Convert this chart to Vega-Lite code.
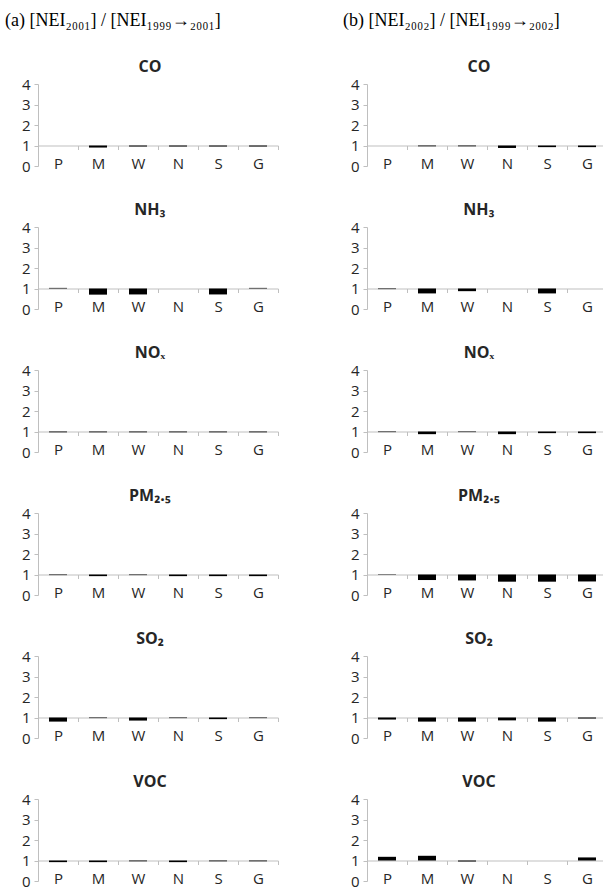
{
  "$schema": "https://vega.github.io/schema/vega-lite/v6.json",
  "padding": {"top": 12, "left": 5, "right": 0, "bottom": 0},
  "datasets": {
    "d": [
      {"p": "a", "g": "CO", "c": "P", "v": 1.0},
      {"p": "a", "g": "CO", "c": "M", "v": 0.9},
      {"p": "a", "g": "CO", "c": "W", "v": 0.95},
      {"p": "a", "g": "CO", "c": "N", "v": 0.95},
      {"p": "a", "g": "CO", "c": "S", "v": 0.95},
      {"p": "a", "g": "CO", "c": "G", "v": 0.95},
      {"p": "b", "g": "CO", "c": "P", "v": 1.0},
      {"p": "b", "g": "CO", "c": "M", "v": 0.96},
      {"p": "b", "g": "CO", "c": "W", "v": 0.96},
      {"p": "b", "g": "CO", "c": "N", "v": 0.88},
      {"p": "b", "g": "CO", "c": "S", "v": 0.92},
      {"p": "b", "g": "CO", "c": "G", "v": 0.92},
      {"p": "a", "g": "NH3", "c": "P", "v": 1.03},
      {"p": "a", "g": "NH3", "c": "M", "v": 0.7},
      {"p": "a", "g": "NH3", "c": "W", "v": 0.71},
      {"p": "a", "g": "NH3", "c": "S", "v": 0.71},
      {"p": "a", "g": "NH3", "c": "G", "v": 1.03},
      {"p": "b", "g": "NH3", "c": "P", "v": 0.97},
      {"p": "b", "g": "NH3", "c": "M", "v": 0.76},
      {"p": "b", "g": "NH3", "c": "W", "v": 0.87},
      {"p": "b", "g": "NH3", "c": "S", "v": 0.76},
      {"p": "a", "g": "NOX", "c": "P", "v": 0.96},
      {"p": "a", "g": "NOX", "c": "M", "v": 0.96},
      {"p": "a", "g": "NOX", "c": "W", "v": 0.96},
      {"p": "a", "g": "NOX", "c": "N", "v": 0.96},
      {"p": "a", "g": "NOX", "c": "S", "v": 0.96},
      {"p": "a", "g": "NOX", "c": "G", "v": 0.96},
      {"p": "b", "g": "NOX", "c": "P", "v": 0.97},
      {"p": "b", "g": "NOX", "c": "M", "v": 0.87},
      {"p": "b", "g": "NOX", "c": "W", "v": 0.97},
      {"p": "b", "g": "NOX", "c": "N", "v": 0.87},
      {"p": "b", "g": "NOX", "c": "S", "v": 0.92},
      {"p": "b", "g": "NOX", "c": "G", "v": 0.92},
      {"p": "a", "g": "PM", "c": "P", "v": 0.97},
      {"p": "a", "g": "PM", "c": "M", "v": 0.92},
      {"p": "a", "g": "PM", "c": "W", "v": 0.97},
      {"p": "a", "g": "PM", "c": "N", "v": 0.92},
      {"p": "a", "g": "PM", "c": "S", "v": 0.92},
      {"p": "a", "g": "PM", "c": "G", "v": 0.92},
      {"p": "b", "g": "PM", "c": "P", "v": 0.98},
      {"p": "b", "g": "PM", "c": "M", "v": 0.73},
      {"p": "b", "g": "PM", "c": "W", "v": 0.71},
      {"p": "b", "g": "PM", "c": "N", "v": 0.65},
      {"p": "b", "g": "PM", "c": "S", "v": 0.65},
      {"p": "b", "g": "PM", "c": "G", "v": 0.66},
      {"p": "a", "g": "SO2", "c": "P", "v": 0.8},
      {"p": "a", "g": "SO2", "c": "M", "v": 0.97},
      {"p": "a", "g": "SO2", "c": "W", "v": 0.85},
      {"p": "a", "g": "SO2", "c": "N", "v": 0.97},
      {"p": "a", "g": "SO2", "c": "S", "v": 0.92},
      {"p": "a", "g": "SO2", "c": "G", "v": 0.97},
      {"p": "b", "g": "SO2", "c": "P", "v": 0.9},
      {"p": "b", "g": "SO2", "c": "M", "v": 0.8},
      {"p": "b", "g": "SO2", "c": "W", "v": 0.8},
      {"p": "b", "g": "SO2", "c": "N", "v": 0.86},
      {"p": "b", "g": "SO2", "c": "S", "v": 0.8},
      {"p": "b", "g": "SO2", "c": "G", "v": 0.95},
      {"p": "a", "g": "VOC", "c": "P", "v": 0.92},
      {"p": "a", "g": "VOC", "c": "M", "v": 0.92},
      {"p": "a", "g": "VOC", "c": "W", "v": 0.96},
      {"p": "a", "g": "VOC", "c": "N", "v": 0.92},
      {"p": "a", "g": "VOC", "c": "S", "v": 0.96},
      {"p": "a", "g": "VOC", "c": "G", "v": 0.96},
      {"p": "b", "g": "VOC", "c": "P", "v": 1.18},
      {"p": "b", "g": "VOC", "c": "M", "v": 1.23},
      {"p": "b", "g": "VOC", "c": "W", "v": 0.95},
      {"p": "b", "g": "VOC", "c": "G", "v": 1.15}
    ]
  },
  "data": {"name": "d"},
  "hconcat": [
    {
      "title": {"text": "(a) [NEI₂₀₀₁] / [NEI₁₉₉₉→₂₀₀₁]", "font": "Liberation Serif", "fontSize": 18, "fontWeight": "normal", "anchor": "start", "frame": "group", "color": "#000000", "offset": 29, "dx": -33},
      "spacing": 28,
      "vconcat": [
        {"title": "CO", "width": 240, "height": 82, "transform": [{"filter": "datum.p==='a' && datum.g==='CO'"}], "mark": {"type": "bar", "width": {"band": 0.45}}, "encoding": {"x": {"field": "c", "type": "nominal", "sort": null, "scale": {"domain": ["P","M","W","N","S","G"], "paddingInner": 0, "paddingOuter": 0}}, "y": {"field": "v", "type": "quantitative", "scale": {"domain": [0, 4], "nice": false}}, "y2": {"datum": 1}}},
        {"title": "NH₃", "width": 240, "height": 82, "transform": [{"filter": "datum.p==='a' && datum.g==='NH3'"}], "mark": {"type": "bar", "width": {"band": 0.45}}, "encoding": {"x": {"field": "c", "type": "nominal", "sort": null, "scale": {"domain": ["P","M","W","N","S","G"], "paddingInner": 0, "paddingOuter": 0}}, "y": {"field": "v", "type": "quantitative", "scale": {"domain": [0, 4], "nice": false}}, "y2": {"datum": 1}}},
        {"title": "NOₓ", "width": 240, "height": 82, "transform": [{"filter": "datum.p==='a' && datum.g==='NOX'"}], "mark": {"type": "bar", "width": {"band": 0.45}}, "encoding": {"x": {"field": "c", "type": "nominal", "sort": null, "scale": {"domain": ["P","M","W","N","S","G"], "paddingInner": 0, "paddingOuter": 0}}, "y": {"field": "v", "type": "quantitative", "scale": {"domain": [0, 4], "nice": false}}, "y2": {"datum": 1}}},
        {"title": "PM₂.₅", "width": 240, "height": 82, "transform": [{"filter": "datum.p==='a' && datum.g==='PM'"}], "mark": {"type": "bar", "width": {"band": 0.45}}, "encoding": {"x": {"field": "c", "type": "nominal", "sort": null, "scale": {"domain": ["P","M","W","N","S","G"], "paddingInner": 0, "paddingOuter": 0}}, "y": {"field": "v", "type": "quantitative", "scale": {"domain": [0, 4], "nice": false}}, "y2": {"datum": 1}}},
        {"title": "SO₂", "width": 240, "height": 82, "transform": [{"filter": "datum.p==='a' && datum.g==='SO2'"}], "mark": {"type": "bar", "width": {"band": 0.45}}, "encoding": {"x": {"field": "c", "type": "nominal", "sort": null, "scale": {"domain": ["P","M","W","N","S","G"], "paddingInner": 0, "paddingOuter": 0}}, "y": {"field": "v", "type": "quantitative", "scale": {"domain": [0, 4], "nice": false}}, "y2": {"datum": 1}}},
        {"title": "VOC", "width": 240, "height": 82, "transform": [{"filter": "datum.p==='a' && datum.g==='VOC'"}], "mark": {"type": "bar", "width": {"band": 0.45}}, "encoding": {"x": {"field": "c", "type": "nominal", "sort": null, "scale": {"domain": ["P","M","W","N","S","G"], "paddingInner": 0, "paddingOuter": 0}}, "y": {"field": "v", "type": "quantitative", "scale": {"domain": [0, 4], "nice": false}}, "y2": {"datum": 1}}}
      ]
    },
    {
      "title": {"text": "(b) [NEI₂₀₀₂] / [NEI₁₉₉₉→₂₀₀₂]", "font": "Liberation Serif", "fontSize": 18, "fontWeight": "normal", "anchor": "start", "frame": "group", "color": "#000000", "offset": 29, "dx": -24},
      "spacing": 28,
      "vconcat": [
        {"title": "CO", "width": 240, "height": 82, "transform": [{"filter": "datum.p==='b' && datum.g==='CO'"}], "mark": {"type": "bar", "width": {"band": 0.45}}, "encoding": {"x": {"field": "c", "type": "nominal", "sort": null, "scale": {"domain": ["P","M","W","N","S","G"], "paddingInner": 0, "paddingOuter": 0}}, "y": {"field": "v", "type": "quantitative", "scale": {"domain": [0, 4], "nice": false}}, "y2": {"datum": 1}}},
        {"title": "NH₃", "width": 240, "height": 82, "transform": [{"filter": "datum.p==='b' && datum.g==='NH3'"}], "mark": {"type": "bar", "width": {"band": 0.45}}, "encoding": {"x": {"field": "c", "type": "nominal", "sort": null, "scale": {"domain": ["P","M","W","N","S","G"], "paddingInner": 0, "paddingOuter": 0}}, "y": {"field": "v", "type": "quantitative", "scale": {"domain": [0, 4], "nice": false}}, "y2": {"datum": 1}}},
        {"title": "NOₓ", "width": 240, "height": 82, "transform": [{"filter": "datum.p==='b' && datum.g==='NOX'"}], "mark": {"type": "bar", "width": {"band": 0.45}}, "encoding": {"x": {"field": "c", "type": "nominal", "sort": null, "scale": {"domain": ["P","M","W","N","S","G"], "paddingInner": 0, "paddingOuter": 0}}, "y": {"field": "v", "type": "quantitative", "scale": {"domain": [0, 4], "nice": false}}, "y2": {"datum": 1}}},
        {"title": "PM₂.₅", "width": 240, "height": 82, "transform": [{"filter": "datum.p==='b' && datum.g==='PM'"}], "mark": {"type": "bar", "width": {"band": 0.45}}, "encoding": {"x": {"field": "c", "type": "nominal", "sort": null, "scale": {"domain": ["P","M","W","N","S","G"], "paddingInner": 0, "paddingOuter": 0}}, "y": {"field": "v", "type": "quantitative", "scale": {"domain": [0, 4], "nice": false}}, "y2": {"datum": 1}}},
        {"title": "SO₂", "width": 240, "height": 82, "transform": [{"filter": "datum.p==='b' && datum.g==='SO2'"}], "mark": {"type": "bar", "width": {"band": 0.45}}, "encoding": {"x": {"field": "c", "type": "nominal", "sort": null, "scale": {"domain": ["P","M","W","N","S","G"], "paddingInner": 0, "paddingOuter": 0}}, "y": {"field": "v", "type": "quantitative", "scale": {"domain": [0, 4], "nice": false}}, "y2": {"datum": 1}}},
        {"title": "VOC", "width": 240, "height": 82, "transform": [{"filter": "datum.p==='b' && datum.g==='VOC'"}], "mark": {"type": "bar", "width": {"band": 0.45}}, "encoding": {"x": {"field": "c", "type": "nominal", "sort": null, "scale": {"domain": ["P","M","W","N","S","G"], "paddingInner": 0, "paddingOuter": 0}}, "y": {"field": "v", "type": "quantitative", "scale": {"domain": [0, 4], "nice": false}}, "y2": {"datum": 1}}}
      ]
    }
  ],
  "spacing": 64,
  "config": {
    "view": {"stroke": null},
    "font": "Open Sans",
    "bar": {"color": "#000000"},
    "axisX": {"title": null, "offset": -20.5, "domainColor": "#bfbfbf", "tickColor": "#bfbfbf", "tickSize": 4, "tickBand": "extent", "labelFontSize": 15, "labelColor": "#262626", "labelPadding": 7, "labelAngle": 0, "labelFont": "Open Sans"},
    "axisY": {"title": null, "grid": false, "tickCount": 4, "domainColor": "#bfbfbf", "tickColor": "#bfbfbf", "tickSize": 4, "labelFontSize": 15, "labelColor": "#262626", "labelPadding": 4, "labelFont": "Open Sans"},
    "title": {"fontSize": 16, "fontWeight": "bold", "frame": "bounds", "anchor": "middle", "offset": 2, "color": "#262626", "font": "Open Sans"}
  }
}
